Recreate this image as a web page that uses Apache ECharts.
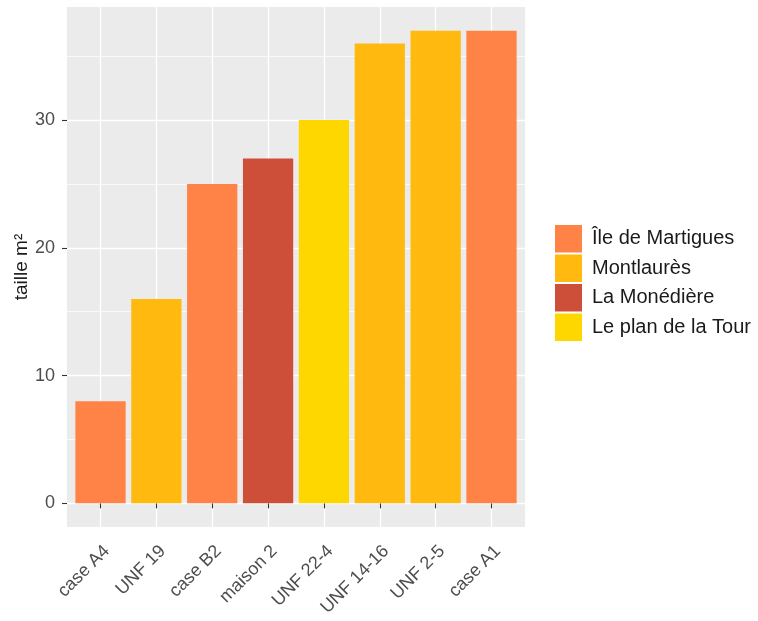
<!DOCTYPE html>
<html>
<head>
<meta charset="utf-8">
<script src="https://cdn.jsdelivr.net/npm/echarts@6/dist/echarts.min.js"></script>
<style>
  html, body { margin: 0; padding: 0; background: #fff; }
  #chart { width: 758px; height: 621px; }
</style>
</head>
<body>
<div id="chart"></div>
<script>
// valeurs
const categories = ['case A4', 'UNF 19', 'case B2', 'maison 2', 'UNF 22-4', 'UNF 14-16', 'UNF 2-5', 'case A1']
const sizes = [8, 16, 25, 27, 30, 36, 37, 37]
const sites = ['Île de Martigues', 'Montlaurès', 'Île de Martigues', 'La Monédière', 'Le plan de la Tour', 'Montlaurès', 'Montlaurès', 'Île de Martigues']
const siteNames = ['Île de Martigues', 'Montlaurès', 'La Monédière', 'Le plan de la Tour']
const siteColors = ['#FF8247', '#FFB90F', '#CD4F39', '#FFD700']
const yTicks = [0, 10, 20, 30]
const yMinorTicks = [5, 15, 25, 35]

const font = '"Liberation Sans", Arial, sans-serif'
const positions = categories.map((c, i) => i + 1)
// expansion facon ggplot : 5% en y, 0.6 en x
const yMax = Math.max(...sizes)
const yPad = yMax * 0.05

const chart = echarts.init(document.getElementById('chart'))

const series = siteNames.map((name, k) => ({
  name: name,
  type: 'bar',
  xAxisIndex: 0,
  yAxisIndex: 0,
  barWidth: '90%',
  barGap: '-100%',
  itemStyle: { color: siteColors[k] },
  data: categories
    .map((c, i) => [positions[i], sizes[i], sites[i]])
    .filter(d => d[2] === name)
    .map(d => [d[0], d[1]])
}))

const option = {
  animation: false,
  backgroundColor: '#ffffff',
  textStyle: { fontFamily: font },
  grid: {
    left: 67,
    top: 7,
    width: 458,
    height: 520,
    outerBoundsMode: 'none',
    containLabel: false,
    show: true,
    backgroundColor: '#EBEBEB',
    borderWidth: 0
  },
  legend: {
    orient: 'vertical',
    left: 555,
    top: 225,
    padding: 0,
    itemWidth: 27,
    itemHeight: 27.5,
    itemGap: 2,
    icon: 'rect',
    data: siteNames,
    textStyle: { fontFamily: font, fontSize: 20, color: '#1A1A1A', padding: [4, 0, 0, 5] }
  },
  xAxis: {
    type: 'value',
    min: 1 - 0.6,
    max: categories.length + 0.6,
    axisLine: { show: false },
    axisTick: {
      show: true,
      length: 5,
      customValues: positions,
      lineStyle: { color: '#333333', width: 1.1 }
    },
    axisLabel: {
      customValues: positions,
      rotate: 45,
      align: 'right',
      verticalAlign: 'top',
      margin: 15,
      fontSize: 18,
      color: '#4D4D4D',
      fontFamily: font,
      formatter: v => categories[Math.round(v) - 1]
    },
    splitLine: { show: true, lineStyle: { color: '#ffffff', width: 1.4 } }
  },
  yAxis: [
    {
      type: 'value',
      min: -yPad,
      max: yMax + yPad,
      name: 'taille m²',
      nameLocation: 'middle',
      nameGap: 36,
      nameMoveOverlap: false,
      nameTextStyle: { fontFamily: font, fontSize: 19, color: '#1A1A1A' },
      axisLine: { show: false },
      axisTick: {
        show: true,
        length: 5,
        customValues: yTicks,
        lineStyle: { color: '#333333', width: 1.1 }
      },
      axisLabel: {
        customValues: yTicks,
        margin: 12,
        fontSize: 18,
        color: '#4D4D4D',
        fontFamily: font
      },
      splitLine: { show: true, lineStyle: { color: '#ffffff', width: 1.4 } }
    },
    {
      // lignes secondaires de la grille
      type: 'value',
      min: -yPad,
      max: yMax + yPad,
      axisLine: { show: false },
      axisTick: { show: false, customValues: yMinorTicks },
      axisLabel: { show: false },
      splitLine: { show: true, lineStyle: { color: '#ffffff', width: 0.7 } }
    }
  ],
  series: series
}

chart.setOption(option)
</script>
</body>
</html>
